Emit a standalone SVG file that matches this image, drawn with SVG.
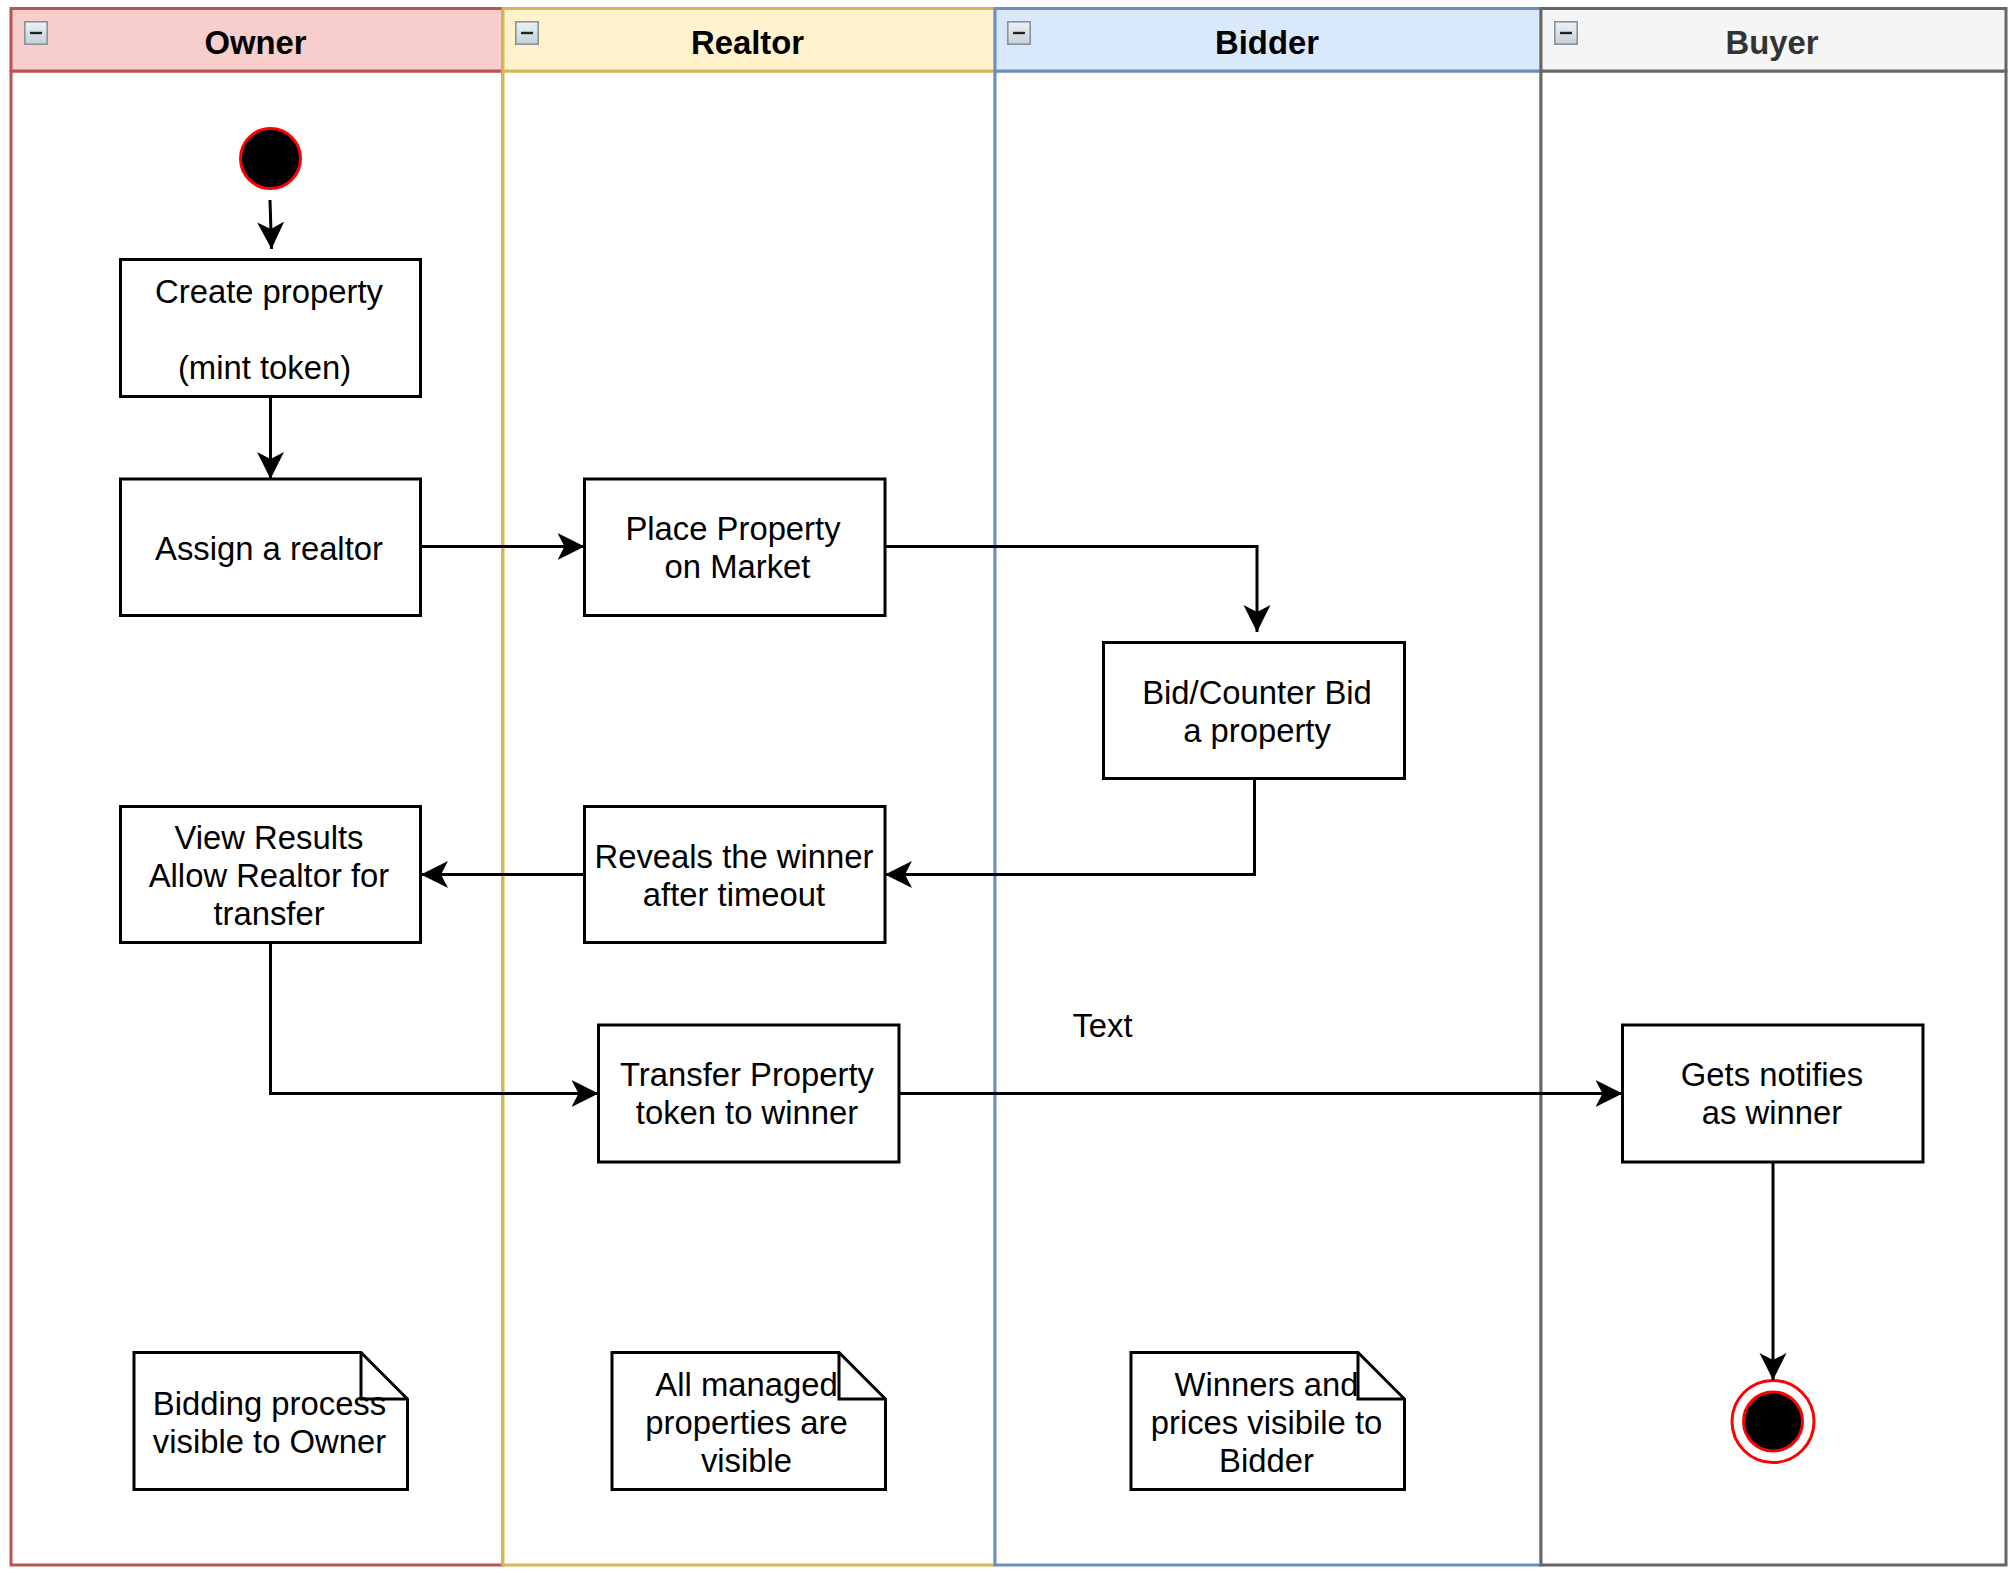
<svg xmlns="http://www.w3.org/2000/svg" width="2013" height="1573" viewBox="0 0 2013 1573">
<style>
text{font-family:"Liberation Sans",Arial,sans-serif;font-size:32.8px;fill:#000;text-anchor:middle}
.title{font-weight:bold}
.box{fill:#fff;stroke:#000;stroke-width:3}
.lane{fill:#fff;stroke-width:3}
.conn{fill:none;stroke:#000;stroke-width:3;stroke-linejoin:miter}
.fold{fill:none;stroke:#000;stroke-width:3}
</style>
<defs>
<marker id="arrow" viewBox="0 0 28 28" refX="27" refY="14" markerWidth="28" markerHeight="28" markerUnits="userSpaceOnUse" orient="auto">
<path d="M0 0.500L27 14L0 27.500L7 14Z" fill="#000"/>
</marker>
<linearGradient id="ic" x1="0" y1="0" x2="0" y2="1"><stop offset="0" stop-color="#eef2f5"/><stop offset="1" stop-color="#c4d0da"/></linearGradient>
<g id="icon"><rect x="0.8" y="0.8" width="22.4" height="22.4" fill="url(#ic)" stroke="#8a9299" stroke-width="1.6"/><path d="M6 12H18" stroke="#222" stroke-width="2.4"/></g>
</defs>
<rect width="2013" height="1573" fill="#fff"/>
<g id="lane-owner">
<rect class="lane" x="11" y="71" width="492" height="1494" stroke="#b85450"/>
<rect class="lane" x="11" y="8.500" width="492" height="62.500" stroke="#b85450" style="fill:#f8cecc"/>
<use href="#icon" x="24" y="21"/>
<text class="title" x="255.500" y="53.500">Owner</text>
</g>
<g id="lane-realtor">
<rect class="lane" x="503" y="71" width="492" height="1494" stroke="#d6b656"/>
<rect class="lane" x="503" y="8.500" width="492" height="62.500" stroke="#d6b656" style="fill:#fff2cc"/>
<use href="#icon" x="515" y="21"/>
<text class="title" x="747.500" y="53.500">Realtor</text>
</g>
<g id="lane-bidder">
<rect class="lane" x="995" y="71" width="546" height="1494" stroke="#6c8ebf"/>
<rect class="lane" x="995" y="8.500" width="546" height="62.500" stroke="#6c8ebf" style="fill:#dae8fc"/>
<use href="#icon" x="1007" y="21"/>
<text class="title" x="1267" y="53.500">Bidder</text>
</g>
<g id="lane-buyer">
<rect class="lane" x="1541" y="71" width="465" height="1494" stroke="#666"/>
<rect class="lane" x="1541" y="8.500" width="465" height="62.500" stroke="#666" style="fill:#f5f5f5"/>
<use href="#icon" x="1554" y="21"/>
<text class="title" x="1772" y="53.500" style="fill:#333">Buyer</text>
</g>
<g id="start"><circle cx="270.500" cy="158.500" r="30" fill="#000" stroke="#f00" stroke-width="3"/></g>
<g id="create"><rect class="box" x="120.500" y="259.500" width="300" height="137"/><text x="269" y="303">Create property</text><text x="264.500" y="379">(mint token)</text></g>
<g id="assign"><rect class="box" x="120.500" y="479" width="300" height="136.500"/><text x="269" y="559.500">Assign a realtor</text></g>
<g id="place"><rect class="box" x="584.500" y="479" width="300.500" height="136.500"/><text x="733" y="540">Place Property</text><text x="737.500" y="578">on Market</text></g>
<g id="bid"><rect class="box" x="1103.500" y="642.500" width="301" height="136"/><text x="1257" y="704">Bid/Counter Bid</text><text x="1257" y="742">a property</text></g>
<g id="reveal"><rect class="box" x="584.500" y="806.500" width="300.500" height="136"/><text x="734" y="868">Reveals the winner</text><text x="734" y="906">after timeout</text></g>
<g id="view"><rect class="box" x="120.500" y="806.500" width="300" height="136"/><text x="269" y="849">View Results</text><text x="269" y="887">Allow Realtor for</text><text x="269" y="925">transfer</text></g>
<g id="transfer"><rect class="box" x="598.500" y="1025" width="300.500" height="137"/><text x="747" y="1086">Transfer Property</text><text x="747" y="1124">token to winner</text></g>
<g id="gets"><rect class="box" x="1622.500" y="1025" width="300.500" height="137"/><text x="1772" y="1086">Gets notifies</text><text x="1772" y="1124">as winner</text></g>
<g id="note-owner"><path class="box" d="M134 1352.500H361L407.500 1399V1489.500H134Z"/><path class="fold" d="M361 1352.500V1399H407.500"/><text x="269.500" y="1414.500">Bidding process</text><text x="269.500" y="1452.500">visible to Owner</text></g>
<g id="note-realtor"><path class="box" d="M612 1352.500H839L885.500 1399V1489.500H612Z"/><path class="fold" d="M839 1352.500V1399H885.500"/><text x="746.500" y="1395.500">All managed</text><text x="746.500" y="1433.500">properties are</text><text x="746.500" y="1471.500">visible</text></g>
<g id="note-bidder"><path class="box" d="M1131 1352.500H1358L1404.500 1399V1489.500H1131Z"/><path class="fold" d="M1358 1352.500V1399H1404.500"/><text x="1266.500" y="1395.500">Winners and</text><text x="1266.500" y="1433.500">prices visibile to</text><text x="1266.500" y="1471.500">Bidder</text></g>
<g id="end"><circle cx="1773" cy="1421.500" r="41" fill="#fff" stroke="#f00" stroke-width="3"/><circle cx="1773" cy="1421.500" r="29.500" fill="#000" stroke="#f00" stroke-width="3"/></g>
<g id="label-text"><text x="1102.500" y="1037">Text</text></g>
<g id="connectors">
<path class="conn" marker-end="url(#arrow)" d="M270 200L271.500 249"/>
<path class="conn" marker-end="url(#arrow)" d="M270.500 397V479"/>
<path class="conn" marker-end="url(#arrow)" d="M421 546.500H584.500"/>
<path class="conn" marker-end="url(#arrow)" d="M885 546.500H1257V632"/>
<path class="conn" marker-end="url(#arrow)" d="M1254.500 778.500V874.500H885"/>
<path class="conn" marker-end="url(#arrow)" d="M584.500 874.500H421"/>
<path class="conn" marker-end="url(#arrow)" d="M270.500 942.500V1093.500H598.500"/>
<path class="conn" marker-end="url(#arrow)" d="M899 1093.500H1622.500"/>
<path class="conn" marker-end="url(#arrow)" d="M1773 1162V1380"/>
</g>
</svg>
